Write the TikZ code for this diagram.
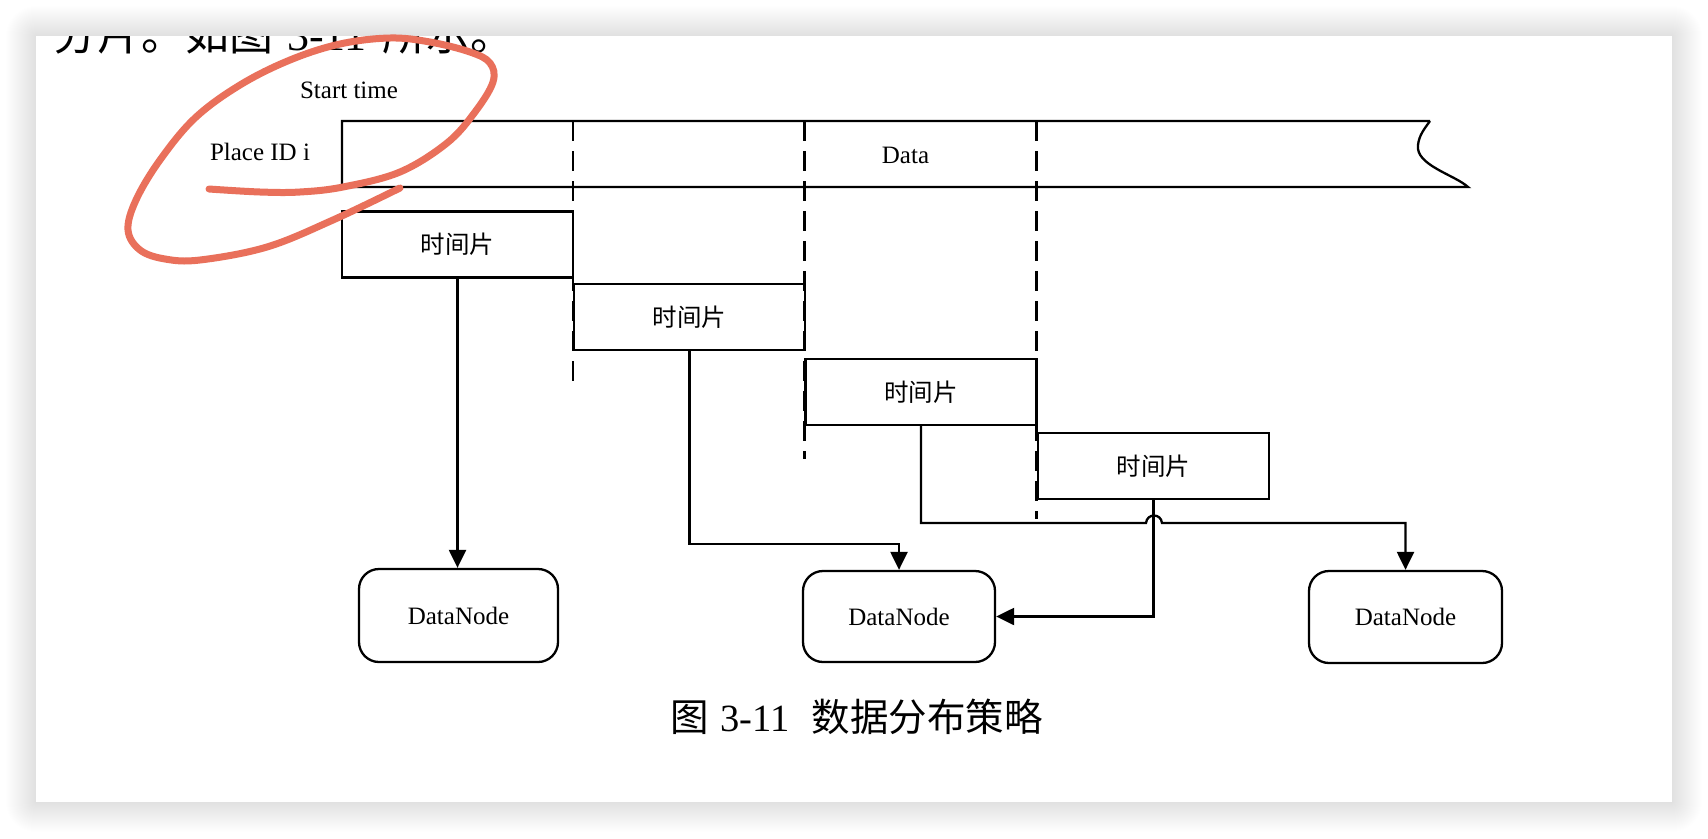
\documentclass[tikz,border=0pt]{standalone}
\usepackage{fontspec}
\setmainfont{Liberation Serif}
\newfontfamily\cjk{Noto Sans CJK SC}
\usetikzlibrary{arrows.meta}
\definecolor{inkred}{HTML}{E9705B}
\tikzset{
  ln/.style={line width=2.3pt},
  slot/.style={draw, line width=2.3pt, minimum width=231pt, minimum height=66pt, inner sep=0pt, font=\fontsize{24.5}{28}\selectfont\cjk},
  dn/.style={draw, line width=2.3pt, rounded corners=20pt, inner sep=0pt, font=\fontsize{25}{30}\selectfont},
  conn/.style={line width=2.3pt, -{Triangle[length=18pt,width=17pt]}},
  sepline/.style={line width=2.3pt, dash pattern=on 20pt off 10pt},
  lbl/.style={inner sep=0pt, font=\fontsize{25}{30}\selectfont},
  ink/.style={draw=inkred, line width=7pt, line cap=round, line join=round}
}
\begin{document}
\begin{tikzpicture}[x=1pt,y=-1pt]
\useasboundingbox (0,0) rectangle (1708,838);
\fill[white] (0,0) rectangle (1708,838);
\foreach \i in {1,...,30} {
  \fill[black,opacity=0.005,rounded corners=\i pt] (36-\i,36-\i) rectangle (1672+\i,802+\i);
}
\fill[white] (36,36) rectangle (1672,802);
% clipped paragraph text at the top
\begin{scope}
  \clip (36,36) rectangle (1672,802);
  \node[anchor=base west, inner sep=0pt, font=\fontsize{44}{50}\selectfont] (para) at (53,50) {{\cjk 分片。如图}\hspace{14pt}3-11\hspace{16pt}{\cjk 所示。}};
\end{scope}
% labels
\node[lbl, anchor=base] (start) at (349,98) {Start time};
\node[lbl, anchor=base] (place) at (260,160) {Place ID i};
\node[lbl, anchor=base] (data) at (905.5,163) {Data};
% data band
\draw[ln, line join=miter] (1430,121) -- (342,121) -- (342,187) -- (1468,187)
  .. controls (1455,175) and (1415,165) .. (1418,145)
  .. controls (1419,135) and (1425,128) .. (1430,121);
% dashed separators
\draw[sepline] (573,121) -- (573,390);
\draw[sepline] (804.5,121) -- (804.5,459);
\draw[sepline] (1036.5,121) -- (1036.5,519);
% time slices
\node[slot] (s1) at (457.5,244.5) {时间片};
\node[slot] (s2) at (689.5,317) {时间片};
\node[slot] (s3) at (921,392) {时间片};
\node[slot] (s4) at (1153.5,466) {时间片};
% data nodes
\node[dn, minimum width=199pt, minimum height=93pt] (dn1) at (458.5,615.5) {DataNode};
\node[dn, minimum width=192pt, minimum height=91pt] (dn2) at (899,616.5) {DataNode};
\node[dn, minimum width=193pt, minimum height=92pt] (dn3) at (1405.5,617) {DataNode};
% connectors
\coordinate (b1) at (689.5,544);
\coordinate (c1) at (921,523);
\coordinate (h1) at (1146,523);
\coordinate (h2) at (1162,523);
\coordinate (c2) at (1405.5,523);
\coordinate (d1) at (1153.5,616.5);
\draw[conn] (s1.south) -- (s1.south |- dn1.north);
\draw[conn] (s2.south) -- (b1) -| (dn2.north);
\draw[conn] (s3.south) -- (c1) -- (h1) .. controls (1147,513) and (1161,513) .. (h2) -- (c2) -- (dn3.north);
\draw[conn] (s4.south) -- (d1) -- (dn2.east);
% caption
\node[anchor=base, inner sep=0pt, font=\fontsize{38.5}{44}\selectfont] (cap) at (856.5,731) {{\cjk 图}\hspace{12pt}3-11\hspace{22pt}{\cjk 数据分布策略}};
% red hand-drawn annotation
\draw[ink] plot[smooth, tension=0.6] coordinates {
  (209,189) (260,192) (300,192) (343,187) (400,172) (447,143) (475,112) (493,82)
  (490,63) (470,52) (430,42) (390,38) (340,44) (290,60) (240,85) (195,118)
  (160,160) (136,200) (128,230) (140,250) (165,259) (200,260) (267,247) (333,220) (400,188)};
\end{tikzpicture}
\end{document}
